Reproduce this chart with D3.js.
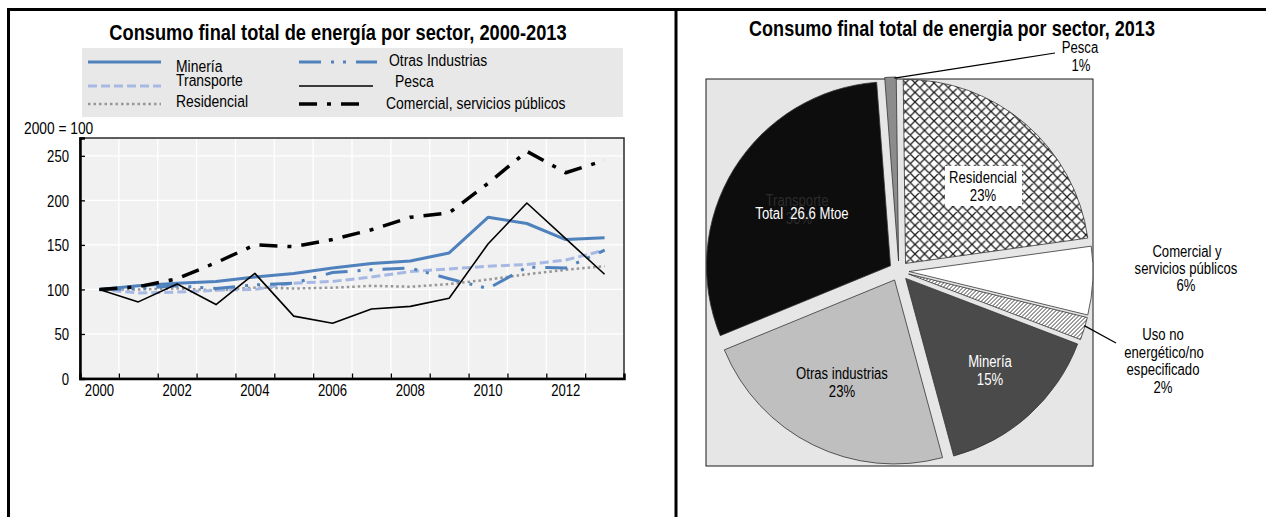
<!DOCTYPE html>
<html>
<head>
<meta charset="utf-8">
<script src="https://cdn.jsdelivr.net/npm/d3@7"></script>
<style>
  html, body { margin: 0; padding: 0; background: #fff; }
  svg { display: block; font-family: "Liberation Sans", Arial, sans-serif; }
</style>
</head>
<body>
<svg id="chart" width="1266" height="517"></svg>
<script>
// ---- Data: final energy consumption index by sector (2000 = 100) ----
const years = [2000, 2001, 2002, 2003, 2004, 2005, 2006, 2007, 2008, 2009, 2010, 2011, 2012, 2013];
const mineria       = [100, 104, 107, 109, 114, 118, 124, 129, 132, 141, 181, 174, 156, 158];
const otrasInd      = [100, 101, 104, 101, 105, 107, 119, 122, 124, 112, 101, 125, 124, 144];
const transporte    = [100,  96,  97,  99, 100, 107, 109, 114, 120, 123, 126, 128, 133, 144];
const pesca         = [100,  86, 106,  83, 118,  70,  62,  78,  81,  90, 151, 197, 157, 117];
const residencial   = [100, 100, 101,  99, 102, 101, 102, 104, 103, 106, 111, 117, 122, 126];
const comercial     = [100, 103, 112, 130, 150, 148, 156, 167, 181, 186, 219, 255, 231, 245];
const yTicks = [0, 50, 100, 150, 200, 250];
const xTickLabels = [2000, 2002, 2004, 2006, 2008, 2010, 2012];

// ---- Data: share of final consumption by sector, 2013 (%) ----
const sectores = ["Pesca", "Residencial", "Comercial y servicios públicos",
                  "Uso no energético/no especificado", "Minería", "Otras industrias", "Transporte"];
const participacion = [1, 23, 6, 2, 15, 23, 30];
const totalMtoe = 26.6;

// ---- Styles ----
const lineStyle = {
  "Minería":                       { color: "#4f81bd", width: 3,   dash: null },
  "Otras Industrias":              { color: "#4f81bd", width: 3,   dash: "22,10,3,9,3,10" },
  "Transporte":                    { color: "#a7b9e3", width: 3,   dash: "9,4" },
  "Pesca":                         { color: "#000000", width: 1.6, dash: null },
  "Residencial":                   { color: "#969696", width: 2.5, dash: "2.5,3" },
  "Comercial, servicios públicos": { color: "#000000", width: 3.5, dash: "18,10,4,10" }
};
const lineSeries = [
  { name: "Residencial", values: residencial },
  { name: "Transporte", values: transporte },
  { name: "Otras Industrias", values: otrasInd },
  { name: "Minería", values: mineria },
  { name: "Pesca", values: pesca },
  { name: "Comercial, servicios públicos", values: comercial }
];

const svg = d3.select("#chart");
const SX = 0.82; // narrow face

function label(g, x, y, s, o = {}) {
  return g.append("text")
    .attr("transform", `translate(${x},${y}) scale(${o.sx || SX},1)`)
    .attr("text-anchor", o.anchor || "start")
    .attr("font-size", o.size || 16)
    .attr("font-weight", o.weight || "normal")
    .attr("fill", o.fill || "#000")
    .text(s);
}

// ================= Left panel: line chart =================
const L = svg.append("g");
label(L, 338, 40, "Consumo final total de energía por sector, 2000-2013", { size: 22, weight: "bold", anchor: "middle", sx: 0.83 });

// legend
L.append("rect").attr("x", 82).attr("y", 48).attr("width", 541).attr("height", 69).attr("fill", "#e8e8e8");
const legendItems = [
  { name: "Minería",                       x1: 88,  x2: 161, ly: 62,  tx: 176, ty: 72 },
  { name: "Transporte",                    x1: 88,  x2: 161, ly: 86,  tx: 176, ty: 86 },
  { name: "Residencial",                   x1: 88,  x2: 161, ly: 104, tx: 176, ty: 107 },
  { name: "Otras Industrias",              x1: 299, x2: 377, ly: 62,  tx: 389, ty: 66 },
  { name: "Pesca",                         x1: 299, x2: 373, ly: 86,  tx: 395, ty: 87 },
  { name: "Comercial, servicios públicos", x1: 299, x2: 368, ly: 104, tx: 386, ty: 109 }
];
legendItems.forEach(it => {
  const st = lineStyle[it.name];
  L.append("line").attr("x1", it.x1).attr("x2", it.x2).attr("y1", it.ly).attr("y2", it.ly)
    .attr("stroke", st.color).attr("stroke-width", st.width)
    .attr("stroke-dasharray", st.dash);
  label(L, it.tx, it.ty, it.name, { size: 17 });
});

label(L, 24, 134, "2000 = 100", { size: 16, sx: 0.86 });

// plot area
const plot = { x0: 80, x1: 624, y0: 138, y1: 378.5 };
const x = d3.scaleLinear().domain([years[0] - 0.5, years[years.length - 1] + 0.5]).range([plot.x0, plot.x1]);
const y = d3.scaleLinear().domain([0, 270]).range([plot.y1, plot.y0]);

L.append("rect").attr("x", plot.x0).attr("y", plot.y0)
  .attr("width", plot.x1 - plot.x0).attr("height", plot.y1 - plot.y0)
  .attr("fill", "#f1f1f1").attr("stroke", "#2a2a2a").attr("stroke-width", 1.5);

const bounds = years.slice(0, -1).map(d => d + 0.5);
L.append("g").selectAll("line").data(bounds).join("line")
  .attr("x1", d => x(d)).attr("x2", d => x(d)).attr("y1", plot.y0 + 1).attr("y2", plot.y1)
  .attr("stroke", "#fff").attr("stroke-width", 1.3);
L.append("g").selectAll("line").data(yTicks.slice(1)).join("line")
  .attr("x1", plot.x0).attr("x2", plot.x1 - 1).attr("y1", d => y(d)).attr("y2", d => y(d))
  .attr("stroke", "#fff").attr("stroke-width", 1.3);

// series
const lineGen = d3.line().x((d, i) => x(years[i])).y(d => y(d));
lineSeries.forEach(s => {
  const st = lineStyle[s.name];
  L.append("path").datum(s.values).attr("d", lineGen)
    .attr("fill", "none").attr("stroke", st.color).attr("stroke-width", st.width)
    .attr("stroke-dasharray", st.dash).attr("stroke-linejoin", "round");
});

// axes
const yAxis = L.append("g").attr("transform", `translate(${plot.x0},0)`)
  .call(d3.axisLeft(y).tickValues(yTicks).tickSize(-5).tickPadding(0).tickFormat(d3.format("d")));
yAxis.select(".domain").attr("stroke", "#000").attr("stroke-width", 2.5);
yAxis.selectAll(".tick line").attr("stroke", "#000").attr("stroke-width", 1.3);
yAxis.selectAll(".tick text").attr("x", null).attr("dy", null)
  .attr("transform", `translate(-11,5.7) scale(${SX},1)`)
  .attr("font-size", 16).attr("font-family", null).attr("fill", "#000");

const xAxis = L.append("g").attr("transform", `translate(0,${plot.y1})`)
  .call(d3.axisBottom(x).tickValues(bounds).tickSize(-5).tickFormat(""));
xAxis.select(".domain").attr("stroke", "#000").attr("stroke-width", 2.5);
xAxis.selectAll(".tick line").attr("stroke", "#000").attr("stroke-width", 1.3);
xTickLabels.forEach(t => label(L, x(t), 396, String(t), { size: 16, anchor: "middle" }));

// ================= Right panel: pie chart =================
const P = svg.append("g");
label(P, 952, 36, "Consumo final total de energia por sector, 2013", { size: 22, weight: "bold", anchor: "middle" });

const defs = svg.append("defs");
const cross = defs.append("pattern").attr("id", "cross").attr("patternUnits", "userSpaceOnUse")
  .attr("width", 9.5).attr("height", 9.5);
cross.append("rect").attr("width", 9.5).attr("height", 9.5).attr("fill", "#fff");
cross.append("path")
  .attr("d", "M-1,1L1,-1M0,9.5L9.5,0M8.5,10.5L10.5,8.5M-1,8.5L1,10.5M0,0L9.5,9.5M8.5,-1L10.5,1")
  .attr("stroke", "#1e1e1e").attr("stroke-width", 1.3);
const diag = defs.append("pattern").attr("id", "diag").attr("patternUnits", "userSpaceOnUse")
  .attr("width", 4).attr("height", 4);
diag.append("rect").attr("width", 4).attr("height", 4).attr("fill", "#fff");
diag.append("path").attr("d", "M-1,1L1,-1M0,4L4,0M3,5L5,3")
  .attr("stroke", "#222").attr("stroke-width", 0.9);

const sliceFill = ["#8c8c8c", "url(#cross)", "#ffffff", "url(#diag)", "#4a4a4a", "#bfbfbf", "#0d0d0d"];

P.append("rect").attr("x", 706).attr("y", 79).attr("width", 387).attr("height", 387)
  .attr("fill", "#e6e6e6").attr("stroke", "#1a1a1a").attr("stroke-width", 1);

const cx = 899, cy = 271, R = 184, explode = 10;
const start = -2 * Math.PI * 0.012;
const pie = d3.pie().sort(null).value(d => d).startAngle(start).endAngle(start + 2 * Math.PI);
const arcs = pie(participacion);
const arc = d3.arc().innerRadius(0).outerRadius(R);
const mid = a => (a.startAngle + a.endAngle) / 2;

P.append("g").attr("transform", `translate(${cx},${cy})`)
  .selectAll("path").data(arcs).join("path")
  .attr("transform", a => `translate(${Math.sin(mid(a)) * explode},${-Math.cos(mid(a)) * explode})`)
  .attr("d", arc)
  .attr("fill", (a, i) => sliceFill[i])
  .attr("stroke", "#333").attr("stroke-width", 0.8);

// leader lines from slice edges
function edgePoint(a) {
  const m = mid(a), r = R + explode;
  return [cx + Math.sin(m) * r, cy - Math.cos(m) * r];
}
const pPesca = edgePoint(arcs[0]);
P.append("line").attr("x1", pPesca[0] + 4).attr("y1", pPesca[1] + 1).attr("x2", 1055).attr("y2", 53)
  .attr("stroke", "#000").attr("stroke-width", 1.2);
const pUso = edgePoint(arcs[3]);
P.append("line").attr("x1", pUso[0]).attr("y1", pUso[1] - 3).attr("x2", 1116).attr("y2", 343)
  .attr("stroke", "#000").attr("stroke-width", 1.2);

// labels
const pct = i => participacion[i] + "%";
label(P, 1080, 53, sectores[0], { anchor: "middle" });
label(P, 1081, 71, pct(0), { anchor: "middle" });

P.append("rect").attr("x", 945).attr("y", 166).attr("width", 77).attr("height", 40).attr("fill", "#fff");
label(P, 983, 183, sectores[1], { anchor: "middle" });
label(P, 983, 201, pct(1), { anchor: "middle" });

label(P, 1187, 257, "Comercial y", { anchor: "middle" });
label(P, 1186, 274, "servicios públicos", { anchor: "middle" });
label(P, 1186, 291, pct(2), { anchor: "middle" });

label(P, 1163, 340, "Uso no", { anchor: "middle" });
label(P, 1164, 358, "energético/no", { anchor: "middle" });
label(P, 1163, 375, "especificado", { anchor: "middle" });
label(P, 1163, 393, pct(3), { anchor: "middle" });

label(P, 990, 367, sectores[4], { anchor: "middle", fill: "#fff" });
label(P, 990, 385, pct(4), { anchor: "middle", fill: "#fff" });

label(P, 842, 379, sectores[5], { anchor: "middle" });
label(P, 842, 397, pct(5), { anchor: "middle" });

label(P, 797, 206, sectores[6], { anchor: "middle", fill: "#2b2b2b" });
label(P, 799, 224, pct(6), { anchor: "middle", fill: "#2b2b2b" });
label(P, 802, 219, "Total\u00a0\u00a0" + totalMtoe + " Mtoe", { anchor: "middle", fill: "#fff" });

// ================= Frames =================
const F = svg.append("g").attr("stroke", "#000").attr("stroke-width", 3);
F.append("line").attr("x1", 7).attr("x2", 1266).attr("y1", 9.5).attr("y2", 9.5);
F.append("line").attr("x1", 8.5).attr("x2", 8.5).attr("y1", 8).attr("y2", 517);
F.append("line").attr("x1", 676).attr("x2", 676).attr("y1", 8).attr("y2", 517);
</script>
</body>
</html>
